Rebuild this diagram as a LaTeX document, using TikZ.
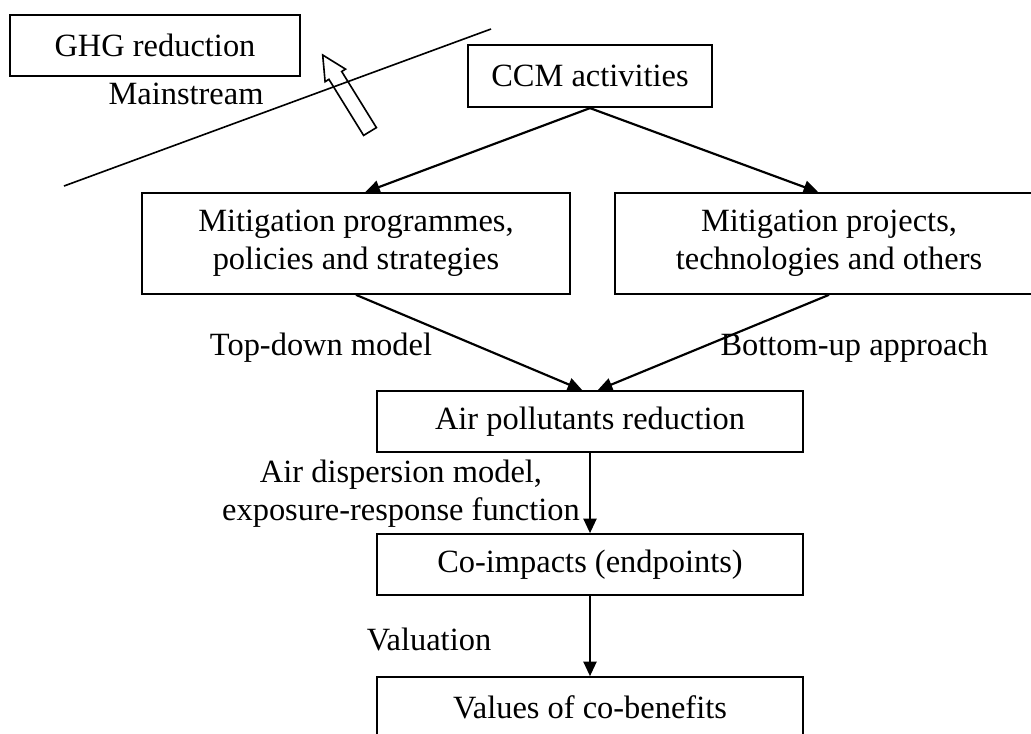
\documentclass[tikz,border=0pt]{standalone}
\usepackage{fontspec}
\setmainfont{Liberation Serif}
\usetikzlibrary{arrows.meta}

\begin{document}
\begin{tikzpicture}[x=0.013cm, y=-0.013cm,
    font=\fontsize{12}{14}\selectfont,
    box/.style={draw, line width=0.7pt, inner sep=0pt, align=center, minimum height=0.79cm, minimum width=#1},
    tallbox/.style={box=#1, minimum height=1.31cm},
    lbl/.style={inner sep=0pt, align=center},
    arr/.style={line width=0.8pt, -{Triangle[length=0.19cm, width=0.17cm]}}]
    \useasboundingbox (0,0) rectangle (1031,733);
    % boxes
    \node[box=3.77cm] (ghg) at (155,45.5) {GHG reduction};
    \node[box=3.17cm, minimum height=0.81cm] (ccm) at (590,76) {CCM activities};
    \node[tallbox=5.56cm] (prog) at (356,243.5) {Mitigation programmes,\\policies and strategies};
    \node[tallbox=5.56cm] (proj) at (829,243.5) {Mitigation projects,\\technologies and others};
    \node[box=5.54cm] (air) at (590,421.5) {Air pollutants reduction};
    \node[box=5.54cm] (coimp) at (590,564.5) {Co-impacts (endpoints)};
    \node[box=5.54cm] (value) at (590,707.5) {Values of co-benefits};
    % labels
    \node[lbl, anchor=base] (main) at (186,104) {Mainstream};
    \node[lbl, anchor=base] (topdown) at (321,355) {Top-down model};
    \node[lbl, anchor=base west] (bottomup) at (720,355) {Bottom-up approach};
    \node[lbl] (disp) at (401,494) {Air dispersion model,\\exposure-response function};
    \node[lbl, anchor=base] (valu) at (429,650) {Valuation};
    % mainstream line and hollow arrow
    \coordinate (ms1) at (64,186);
    \coordinate (ms2) at (491,29);
    \draw[line width=0.6pt] (ms1) -- (ms2);
    \draw[line width=0.6pt] (322.7,55) -- (325.1,81.7) -- (328.9,79.3) -- (363.6,135.4)
        -- (376.4,127.6) -- (341.7,71.5) -- (345.5,69.1) -- cycle;
    % flow
    \draw[arr] (ccm.south) -- ([xshift=0.12cm]prog.north);
    \draw[arr] (ccm.south) -- ([xshift=-0.14cm]proj.north);
    \draw[arr] (prog.south) -- ([xshift=-0.1cm]air.north);
    \draw[arr] (proj.south) -- ([xshift=0.1cm]air.north);
    \draw[arr] (air) -- (coimp);
    \draw[arr] (coimp) -- (value);
\end{tikzpicture}
\end{document}
